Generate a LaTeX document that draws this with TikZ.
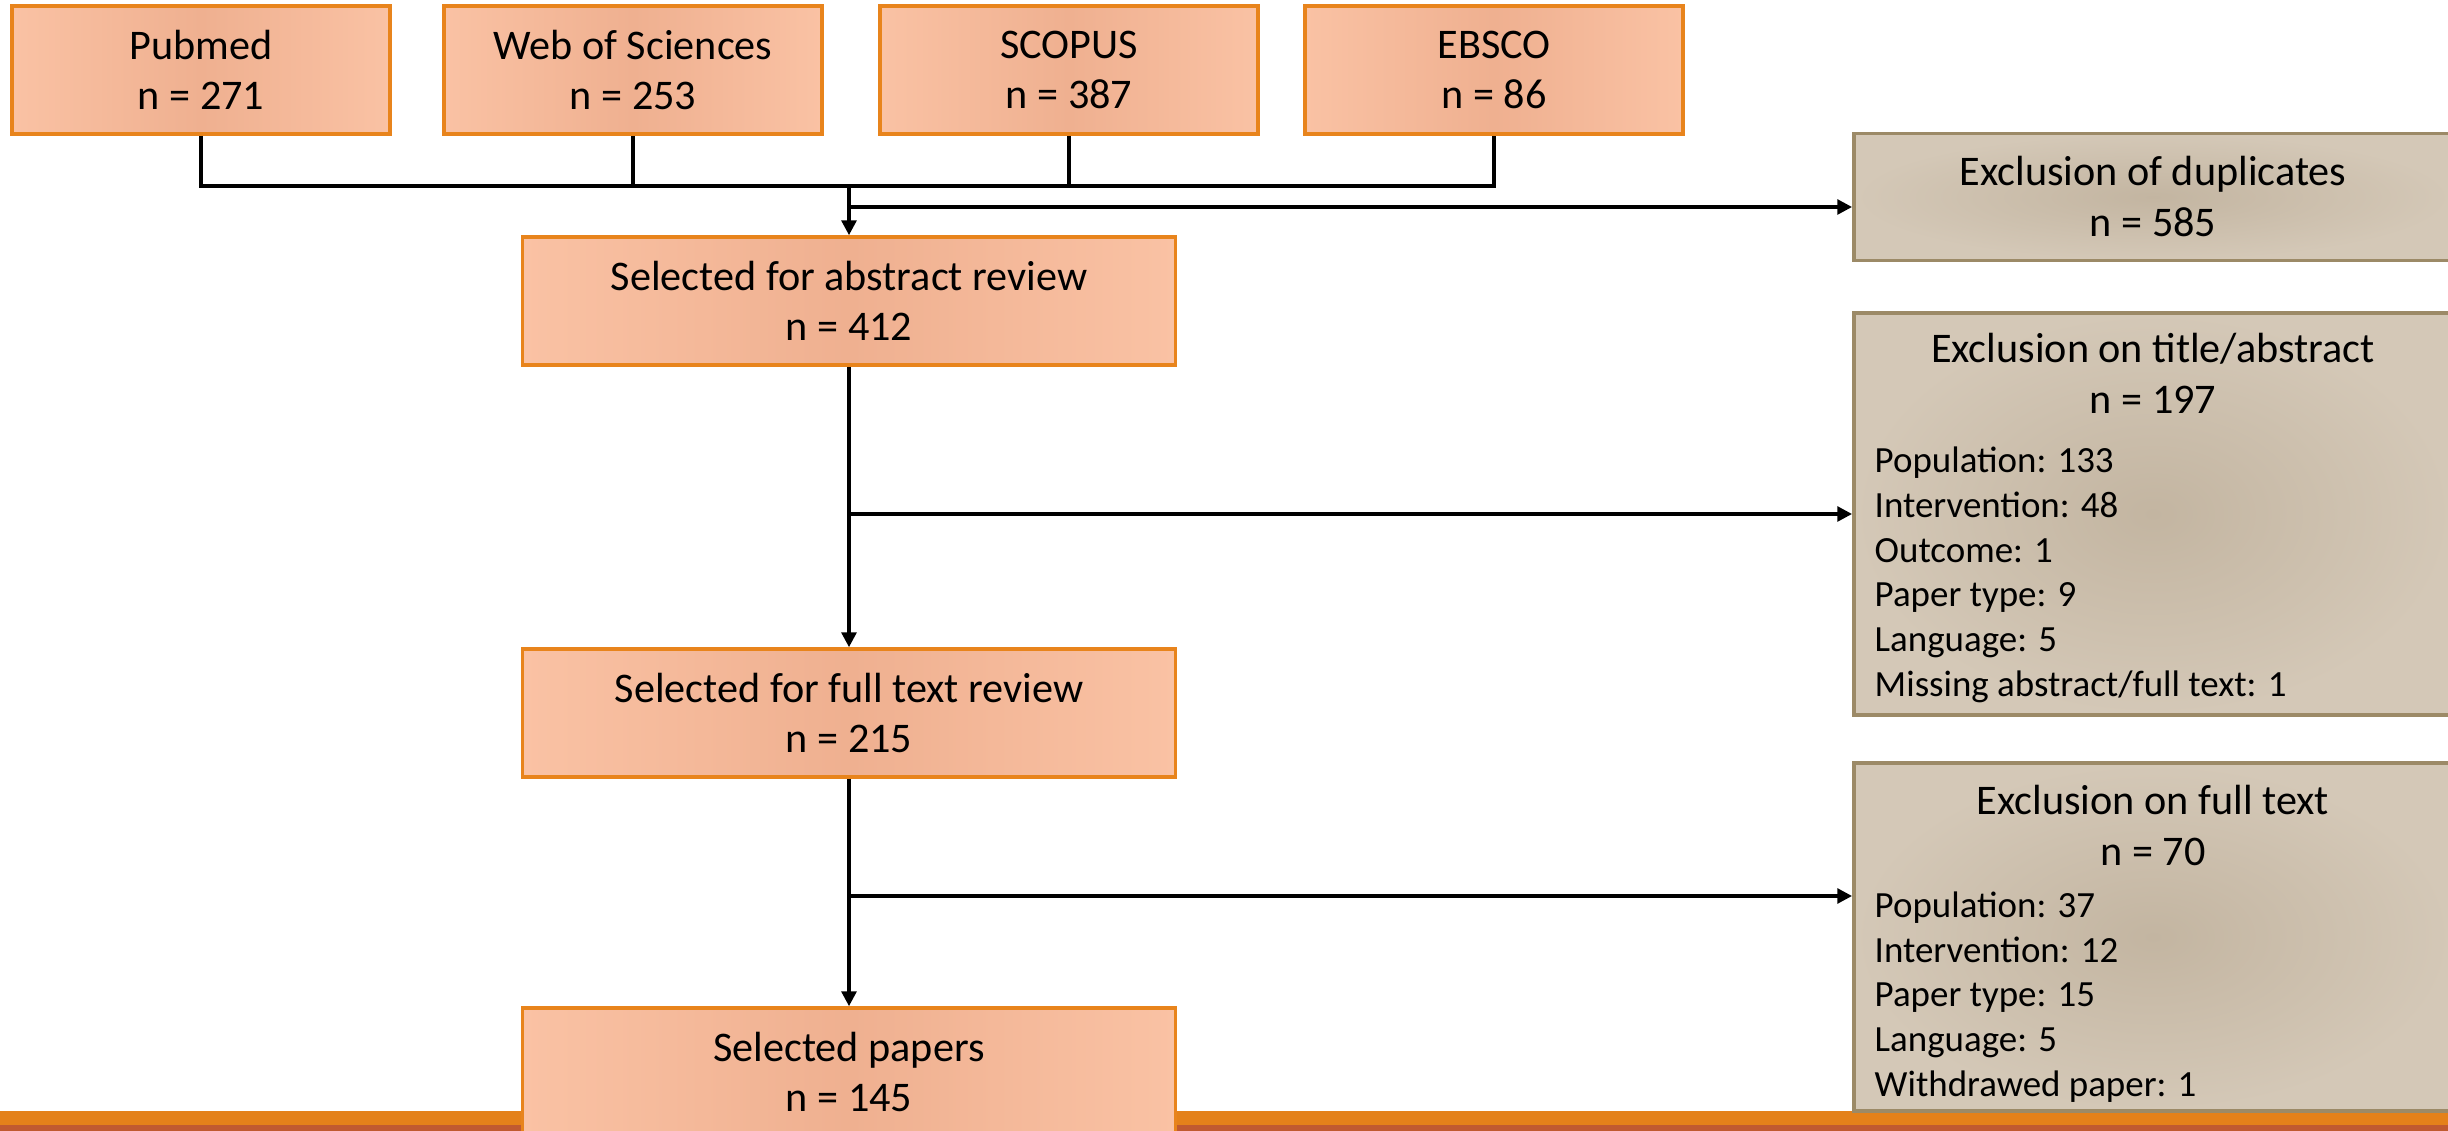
\documentclass[tikz,border=0pt]{standalone}
\usepackage{fontspec}
\setmainfont{Carlito}
\usepackage{tikz}
\usetikzlibrary{arrows.meta}
\definecolor{boxorange}{RGB}{232,132,28}
\definecolor{salmonout}{RGB}{250,194,164}
\definecolor{salmonin}{RGB}{239,176,144}
\definecolor{exborder}{RGB}{156,138,103}
\definecolor{grayout}{RGB}{212,200,183}
\definecolor{grayin}{RGB}{195,181,161}
\definecolor{bandorange}{RGB}{228,129,26}
\definecolor{banddark}{RGB}{192,90,48}

\tikzset{
    srcbox/.style={draw=boxorange, line width=1pt, left color=salmonout, right color=salmonout, middle color=salmonin, minimum width=3.78cm, minimum height=1.28cm, align=center, font=\fontsize{12}{14.2}\selectfont},
    stepbox/.style={srcbox, minimum width=6.53cm},
    exbox/.style={draw=exborder, line width=1pt, inner color=grayin, outer color=grayout, minimum width=5.98cm, align=center, font=\fontsize{12}{14.5}\selectfont},
    headtext/.style={align=center, font=\fontsize{12}{14.5}\selectfont},
    listtext/.style={align=left, inner sep=0pt, font=\fontsize{10.5}{12.7}\selectfont},
    link/.style={line width=0.95pt},
    flow/.style={link, -{Triangle[length=4.2pt,width=4.2pt]}}
}

\begin{document}
\begin{tikzpicture}[x=0.01cm, y=-0.01cm]
    \useasboundingbox (0,0) rectangle (2448,1131);
    \clip (0,0) rectangle (2448,1131);
    \fill[bandorange] (0,1111) rectangle (2448,1125);
    \fill[banddark] (0,1125) rectangle (2448,1131);

    \node(pubmed)[srcbox] at (201,70) {Pubmed\\n = 271};
    \node(wos)[srcbox] at (633,70) {Web of Sciences\\n = 253};
    \node(scopus)[srcbox] at (1069,70) {SCOPUS\\n = 387};
    \node(ebsco)[srcbox] at (1494,70) {EBSCO\\n = 86};

    \node(abstract)[stepbox] at (849,301) {Selected for abstract review\\n = 412};
    \node(fulltext)[stepbox] at (849,713) {Selected for full text review\\n = 215};
    \node(papers)[stepbox] at (849,1072) {Selected papers\\n = 145};

    \node(exdup)[exbox, minimum height=1.27cm] at (2153,197) {Exclusion of duplicates\\n = 585};
    \node(exta)[exbox, minimum height=4.02cm] at (2153,514) {};
    \node(extahead)[headtext] at (2153,373) {Exclusion on title/abstract\\n = 197};
    \node(extalist)[listtext, anchor=west] at (1874,575) {Population: 133\\Intervention: 48\\Outcome: 1\\Paper type: 9\\Language: 5\\Missing abstract/full text: 1};
    \node(exft)[exbox, minimum height=3.48cm] at (2153,937) {};
    \node(exfthead)[headtext] at (2153,825) {Exclusion on full text\\n = 70};
    \node(exftlist)[listtext, anchor=west] at (1874,997) {Population: 37\\Intervention: 12\\Paper type: 15\\Language: 5\\Withdrawed paper: 1};

    \coordinate(merge) at (849,186);
    \coordinate(dupsplit) at (849,207);
    \coordinate(ftsplit) at (849,896);

    \draw[link] (pubmed.south) |- (merge) -| (ebsco.south);
    \draw[link] (wos.south) -- (wos.south |- merge);
    \draw[link] (scopus.south) -- (scopus.south |- merge);
    \draw[flow] (merge) -- (abstract.north);
    \draw[flow] (dupsplit) -- (exdup.west |- dupsplit);
    \draw[flow] (abstract) -- (fulltext);
    \draw[flow] (abstract.south |- exta.west) -- (exta.west);
    \draw[flow] (fulltext) -- (papers);
    \draw[flow] (ftsplit) -- (exft.west |- ftsplit);
\end{tikzpicture}
\end{document}
